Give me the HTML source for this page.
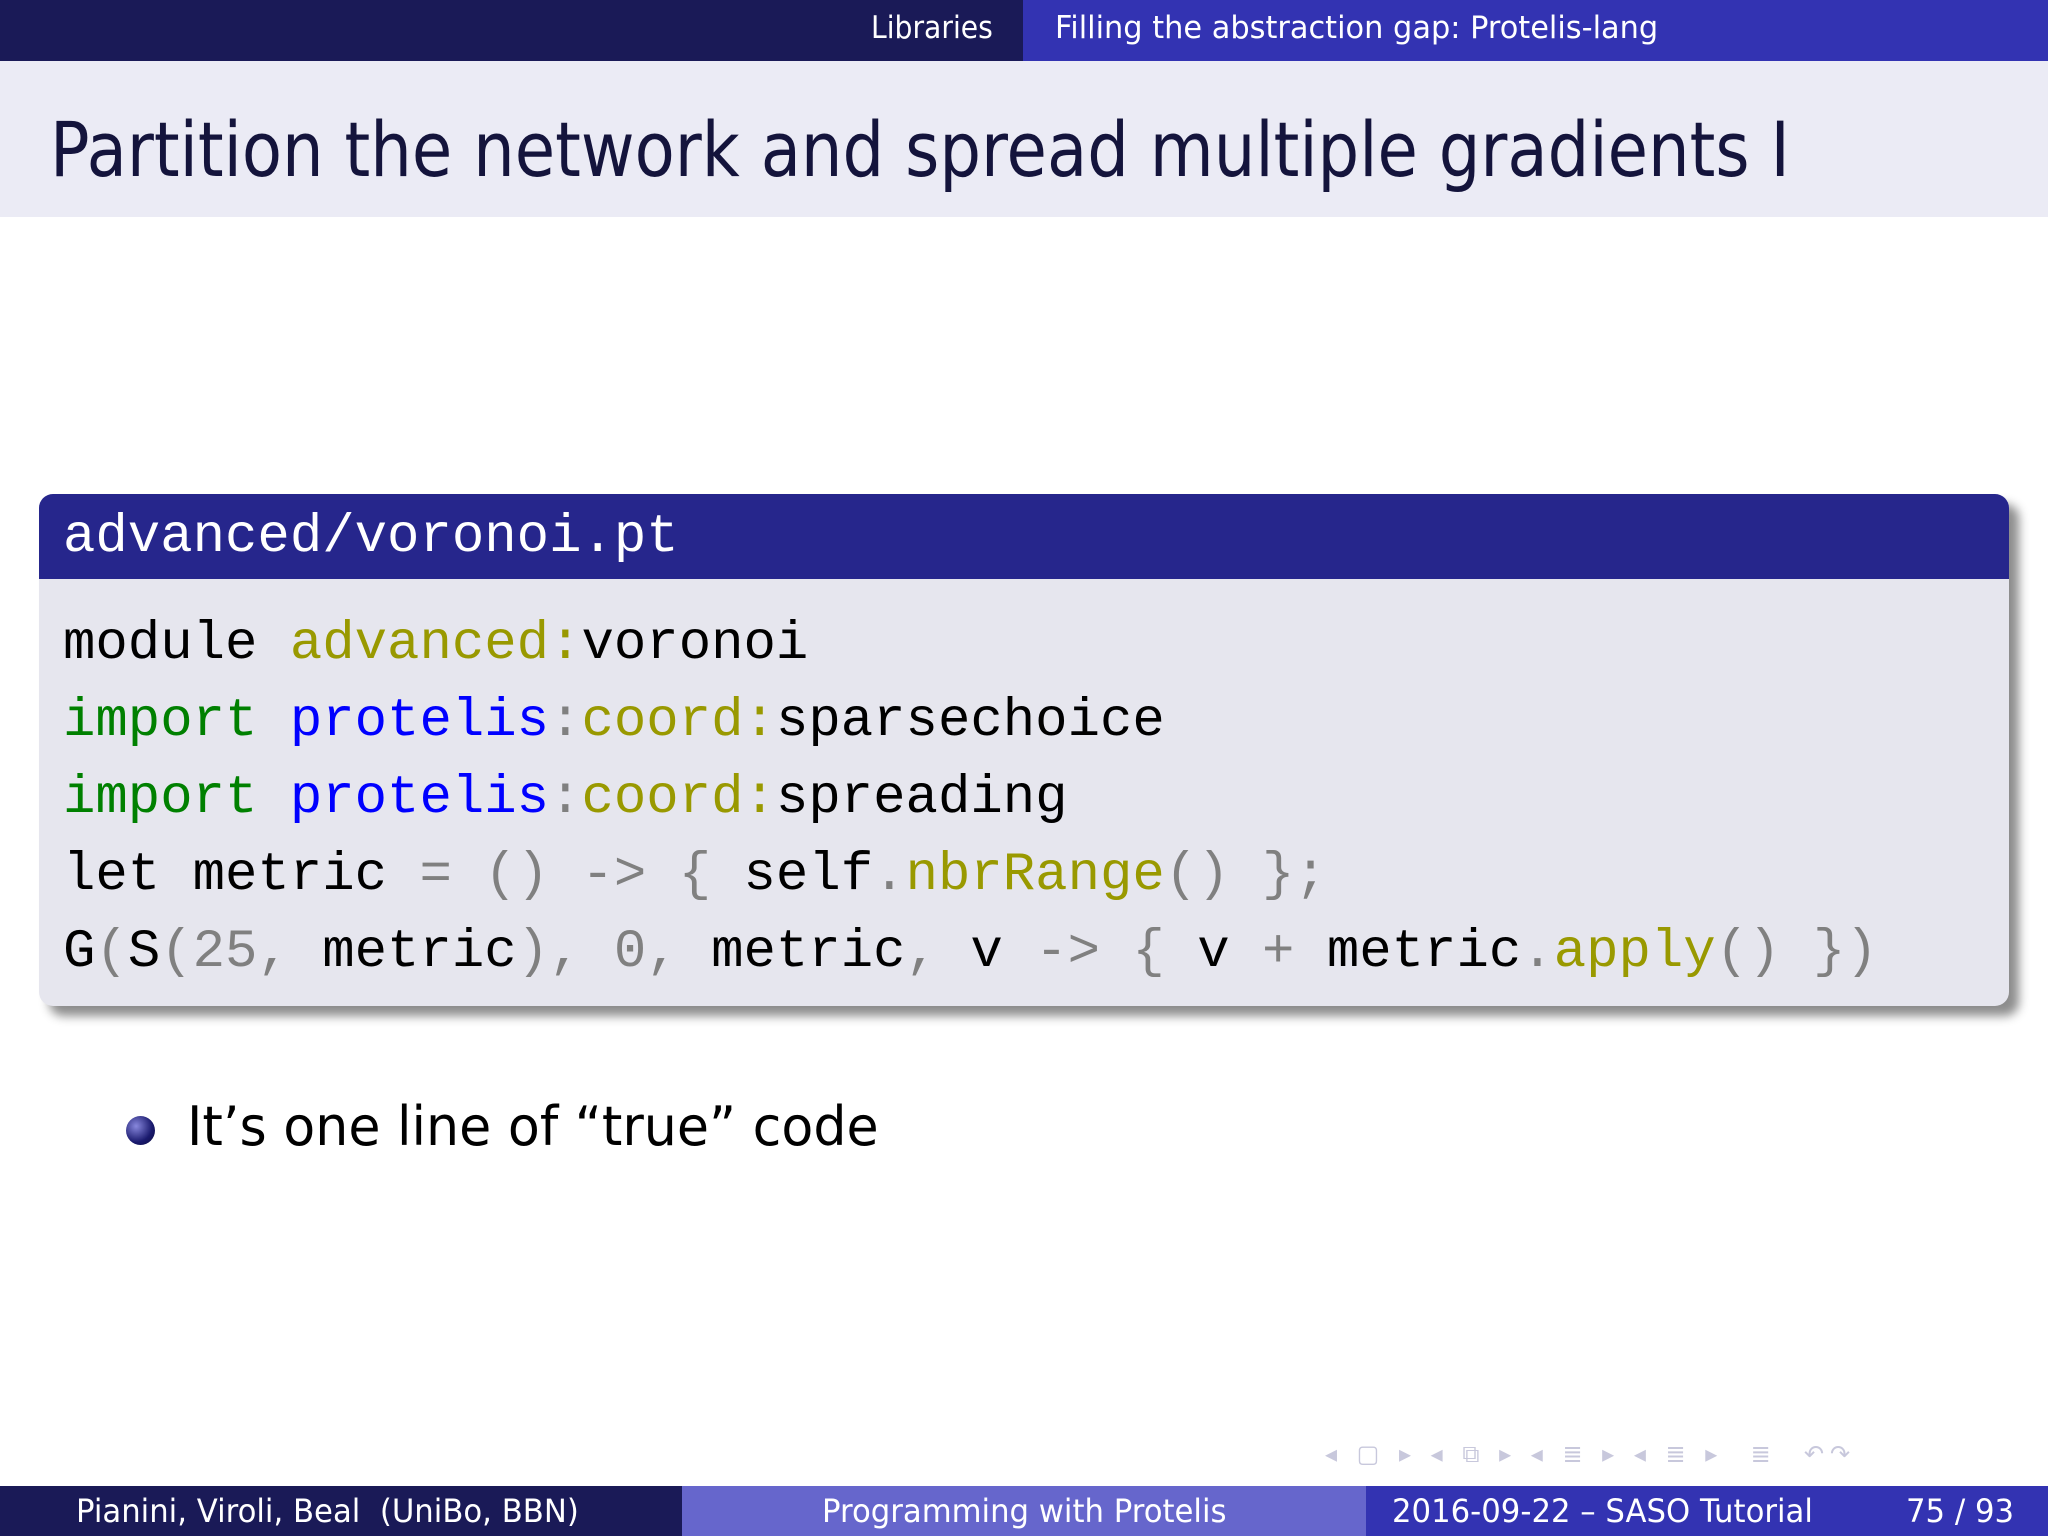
<!DOCTYPE html>
<html><head><meta charset="utf-8"><style>
*{margin:0;padding:0;box-sizing:border-box}
body{width:2048px;height:1536px;background:#fff;position:relative;overflow:hidden;font-family:"DejaVu Sans","Liberation Sans",sans-serif}
.abs{position:absolute;white-space:pre}
#top1{left:0;top:0;width:1023px;height:61px;background:#1a1a57}
#top2{left:1023px;top:0;width:1025px;height:61px;background:#3333b2}
#titlebar{left:0;top:61px;width:2048px;height:156px;background:#ebebf5}
.mono{font-family:"Liberation Mono","DejaVu Sans Mono",monospace}
#box{left:39px;top:494px;width:1970px;height:512px;border-radius:14px;background:#e6e6ee;box-shadow:10px 10px 10px rgba(0,0,0,0.45);overflow:hidden}
#boxh{position:absolute;left:0;top:0;width:100%;height:85px;background:#26268c}
.g{color:#008000}.b{color:#0000ff}.o{color:#999900}.k{color:#000}.gr{color:#808080}
.ft{top:1486px;height:50px;color:#fff;font-size:32px;line-height:50px;transform-origin:0 0;transform:scaleX(0.96)}
</style></head><body>
<div class="abs" id="top1"></div><div class="abs" id="top2"></div>
<div class="abs" style="left:871px;top:10px;color:#fff;font-size:31px;transform-origin:0 0;transform:scaleX(0.91)">Libraries</div>
<div class="abs" style="left:1055px;top:10px;color:#fff;font-size:31px;transform-origin:0 0;transform:scaleX(0.98)">Filling the abstraction gap: Protelis-lang</div>
<div class="abs" id="titlebar"></div>
<div class="abs" style="left:50px;top:105px;color:#14143c;font-size:76px;line-height:90px;transform-origin:0 0;transform:scaleX(0.864)">Partition the network and spread multiple gradients I</div>
<div class="abs" id="box"><div id="boxh"></div></div>
<div class="abs mono" style="left:63px;top:506px;color:#fff;font-size:54px;line-height:64px">advanced/voronoi.pt</div>
<div class="abs mono" style="left:63px;top:606px;font-size:54px;line-height:77px;color:#000"><span>module </span><span class="o">advanced:</span>voronoi
<span class="g">import</span> <span class="b">protelis</span><span class="gr">:</span><span class="o">coord:</span>sparsechoice
<span class="g">import</span> <span class="b">protelis</span><span class="gr">:</span><span class="o">coord:</span>spreading
let metric <span class="gr">=</span> <span class="gr">()</span> <span class="gr">-&gt;</span> <span class="gr">{</span> self<span class="gr">.</span><span class="o">nbrRange</span><span class="gr">()</span> <span class="gr">};</span>
G<span class="gr">(</span>S<span class="gr">(25,</span> metric<span class="gr">),</span> <span class="gr">0,</span> metric<span class="gr">,</span> v <span class="gr">-&gt;</span> <span class="gr">{</span> v <span class="gr">+</span> metric<span class="gr">.</span><span class="o">apply</span><span class="gr">()</span> <span class="gr">})</span></div>
<div class="abs" style="left:126px;top:1116px;width:29px;height:29px;border-radius:50%;background:radial-gradient(circle at 35% 35%,#8888dd,#1a1a6e 60%,#0a0a3a)"></div>
<div class="abs" style="left:187px;top:1095px;font-size:54px;line-height:64px;color:#000;transform-origin:0 0;transform:scaleX(0.967)">It’s one line of “true” code</div>
<div class="abs" style="left:1325px;top:1440px;font-size:24px;color:#c8c8dc;letter-spacing:6px">◂ ▢ ▸ ◂ ⧉ ▸ ◂ ≣ ▸ ◂ ≣ ▸ &nbsp;≣ &nbsp;↶↷</div>
<div class="abs" style="top:1486px;height:50px;left:0;width:682px;background:#1a1a57"></div>
<div class="abs" style="top:1486px;height:50px;left:682px;width:684px;background:#6666cc"></div>
<div class="abs" style="top:1486px;height:50px;left:1366px;width:682px;background:#3333b2"></div>
<div class="abs ft" style="left:76px">Pianini, Viroli, Beal  (UniBo, BBN)</div>
<div class="abs ft" style="left:822px">Programming with Protelis</div>
<div class="abs ft" style="left:1392px">2016-09-22 – SASO Tutorial</div>
<div class="abs ft" style="left:1906px">75 / 93</div>
</body></html>
